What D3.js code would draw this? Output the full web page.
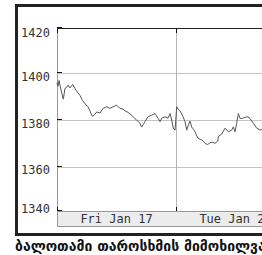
<!DOCTYPE html>
<html>
<head>
<meta charset="utf-8">
<script src="https://cdn.jsdelivr.net/npm/d3@7"></script>
<style>
  body { margin: 0; background: #fff; }
  .lab { font-family: "DejaVu Sans Mono", monospace; font-size: 12px; fill: #333; }
  .cap { font-family: "DejaVu Sans", sans-serif; font-size: 14px; font-weight: bold; fill: #111; }
</style>
</head>
<body>
<svg width="262" height="255"></svg>
<script>
// day offsets (0 = start of Fri Jan 17 session) and index values
var times = [0, 0.008, 0.017, 0.025, 0.038, 0.053, 0.067, 0.080, 0.092, 0.109, 0.132, 0.151,
  0.172, 0.193, 0.214, 0.235, 0.261, 0.277, 0.291, 0.302, 0.319, 0.334, 0.361, 0.387,
  0.418, 0.445, 0.471, 0.502, 0.529, 0.555, 0.571, 0.597, 0.628, 0.647, 0.669, 0.697,
  0.711, 0.739, 0.764, 0.795, 0.824, 0.849, 0.866, 0.880, 0.908, 0.933, 0.950, 0.964,
  0.977, 0.992, 1.006, 1.021, 1.034, 1.059, 1.076, 1.090, 1.105, 1.118, 1.132, 1.148,
  1.160, 1.172, 1.185, 1.202, 1.216, 1.229, 1.244, 1.266, 1.286, 1.309, 1.328, 1.351,
  1.356, 1.384, 1.412, 1.440, 1.468, 1.482, 1.496, 1.510, 1.524, 1.538, 1.553, 1.581,
  1.603, 1.622, 1.650, 1.679, 1.707, 1.735];
var prices = [1396, 1394.5, 1397, 1395, 1392, 1389, 1393.6, 1394, 1395, 1393.8, 1395.3, 1393.5,
  1392, 1390.6, 1388.5, 1387, 1385.7, 1384, 1382, 1381.7, 1382.5, 1383.5, 1383, 1385,
  1385.7, 1385, 1385.7, 1386.4, 1385, 1384.7, 1384, 1383.3, 1382, 1381, 1380, 1378.7,
  1377, 1379.3, 1381.4, 1382.1, 1382.8, 1380.8, 1379.3, 1380.8, 1381.4, 1380.8, 1382.8, 1380,
  1376.6, 1375.7, 1385.7, 1384.5, 1384, 1381.4, 1379.3, 1375.7, 1378, 1379.5, 1377, 1376,
  1375, 1373.5, 1372.3, 1371.8, 1371.5, 1371, 1370, 1369.5, 1370.3, 1370.5, 1370, 1371,
  1372.9, 1374, 1376.5, 1375, 1375.7, 1377.1, 1375, 1378.6, 1382.8, 1380.7, 1380.7, 1381.2,
  1381.4, 1380.7, 1378.6, 1376.5, 1375.7, 1376.2];
var dayBounds = [0, 1, 2];
var dayLabels = ["Fri Jan 17", "Tue Jan 21"];
var yTicks = [1340, 1360, 1380, 1400, 1420];
var caption = "ბალოთამი თაროსხმის მიმოხილვამდე";

var plotL = 57, plotR = 295, plotT = 28, plotB = 211;

var svg = d3.select("svg");

var x = d3.scaleLinear().domain([0, 2]).range([plotL, plotR]);
var y = d3.scaleLinear().domain([1341, 1419.5]).range([plotB, plotT]).clamp(true);

// outer frame
svg.append("rect")
  .attr("x", 16.5).attr("y", 5.5)
  .attr("width", 300).attr("height", 229)
  .attr("fill", "#fff")
  .attr("stroke", "#222")
  .attr("stroke-width", 3);

// gridlines
svg.append("g")
  .selectAll("line")
  .data(yTicks.slice(1, -1))
  .enter()
  .append("line")
  .attr("x1", plotL).attr("x2", plotR)
  .attr("y1", function(d){ return Math.round(y(d)) + 0.5; })
  .attr("y2", function(d){ return Math.round(y(d)) + 0.5; })
  .attr("stroke", "#c4c4c4");

svg.append("g")
  .selectAll("line")
  .data(dayBounds.slice(1, -1))
  .enter()
  .append("line")
  .attr("x1", function(d){ return Math.round(x(d)) + 0.5; })
  .attr("x2", function(d){ return Math.round(x(d)) + 0.5; })
  .attr("y1", plotT).attr("y2", plotB)
  .attr("stroke", "#b4b4b4");

// spines
svg.append("line")
  .attr("x1", plotL + 0.5).attr("x2", plotL + 0.5)
  .attr("y1", plotT).attr("y2", plotB)
  .attr("stroke", "#999");
svg.append("line")
  .attr("x1", plotL).attr("x2", plotR)
  .attr("y1", plotT + 0.5).attr("y2", plotT + 0.5)
  .attr("stroke", "#222");

// the price line
var line = d3.line()
  .x(function(d){ return x(d[0]); })
  .y(function(d){ return y(d[1]); });

svg.append("path")
  .datum(d3.zip(times, prices))
  .attr("d", line)
  .attr("fill", "none")
  .attr("stroke", "#555")
  .attr("stroke-width", 1);

// x axis band
svg.append("rect")
  .attr("x", plotL + 0.5).attr("y", plotB + 0.5)
  .attr("width", plotR - plotL).attr("height", 15)
  .attr("fill", "#ececec")
  .attr("stroke", "#999");

svg.selectAll(".xlab")
  .data(dayLabels)
  .enter()
  .append("text")
  .attr("class", "lab")
  .attr("x", function(d, i){ return (x(dayBounds[i]) + x(dayBounds[i + 1])) / 2; })
  .attr("y", plotB + 12)
  .attr("text-anchor", "middle")
  .text(function(d){ return d; });

// ticks
svg.append("g")
  .selectAll("line")
  .data(yTicks)
  .enter()
  .append("line")
  .attr("x1", plotL).attr("x2", plotL + 5)
  .attr("y1", function(d){ return Math.round(y(d)) - 0.5; })
  .attr("y2", function(d){ return Math.round(y(d)) - 0.5; })
  .attr("stroke", "#111");

dayBounds.forEach(function(d){
  var px = Math.round(x(d)) + 0.5;
  svg.append("line")
    .attr("x1", px).attr("x2", px)
    .attr("y1", plotT).attr("y2", plotT + 5)
    .attr("stroke", "#111");
  svg.append("line")
    .attr("x1", px).attr("x2", px)
    .attr("y1", plotB - 4).attr("y2", plotB)
    .attr("stroke", "#111");
});

// y labels, kept inside the plot height
svg.selectAll(".ylab")
  .data(yTicks)
  .enter()
  .append("text")
  .attr("class", "lab")
  .attr("x", 50)
  .attr("y", function(d){
    var c = Math.min(Math.max(y(d) + 3, plotT + 4.5), plotB - 3);
    return c + 4.5;
  })
  .attr("text-anchor", "end")
  .text(function(d){ return d; });

// caption
svg.append("text")
  .attr("class", "cap")
  .attr("x", 15)
  .attr("y", 251)
  .text(caption);
</script>
</body>
</html>
